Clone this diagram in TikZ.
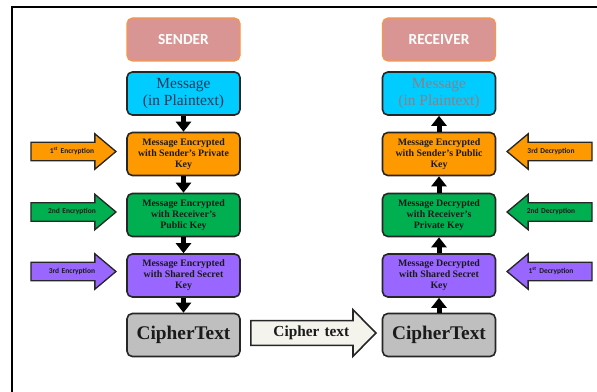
\documentclass[tikz,border=0pt]{standalone}
\usepackage{fontspec}
\setmainfont{Liberation Serif}
\newfontfamily\lblfont{Carlito}
\usetikzlibrary{shapes.arrows,arrows.meta}
\definecolor{hdrfill}{HTML}{D99594}
\definecolor{hdrline}{HTML}{F79646}
\definecolor{cyanbox}{HTML}{00CCFF}
\definecolor{orangebox}{HTML}{FF9900}
\definecolor{greenbox}{HTML}{00B050}
\definecolor{purplebox}{HTML}{9966FF}
\definecolor{graybox}{HTML}{BFBFBF}
\definecolor{ivory}{HTML}{F4F4EC}
\definecolor{navytext}{HTML}{1F3A5A}
\definecolor{fadedtext}{HTML}{8B8088}
\definecolor{inktext}{HTML}{1A1A1A}

\begin{document}
\begin{tikzpicture}[x=0.75pt,y=-0.75pt,
  box/.style={draw=black!85, line width=1.2pt, rounded corners=4pt,
    minimum width=84.75pt, minimum height=32.25pt, inner sep=1pt, align=center},
  header/.style={box, draw=hdrline, line width=0.8pt, fill=hdrfill, text=white,
    font=\lblfont\bfseries\fontsize{11.5}{13}\selectfont},
  msgbox/.style={box, fill=cyanbox, font=\fontsize{11.6}{12.75}\selectfont},
  keybox/.style={box, text=inktext, font=\bfseries\fontsize{7.4}{8.3}\selectfont},
  cipherbox/.style={box, fill=graybox, text=inktext, font=\bfseries\fontsize{14.5}{16}\selectfont},
  link/.style={line width=3.75pt, -{Triangle[width=11.25pt,length=7.5pt]}},
  sidearrow/.style={single arrow, draw=black!85, line width=1pt,
    minimum height=63.75pt, single arrow head extend=6.4pt,
    single arrow tip angle=80, text height=4pt, text depth=1.2pt,
    inner ysep=3.78pt, inner xsep=1pt, text width=46.75pt, align=center,
    text=inktext, font=\lblfont\bfseries\fontsize{5.6}{6}\selectfont},
  leftpointing/.style={sidearrow, shape border rotate=180},
  bigarrow/.style={single arrow, draw=black!85, line width=1.2pt, fill=ivory,
    minimum height=93.75pt, single arrow head extend=8.25pt,
    single arrow tip angle=91, text height=7.5pt, text depth=2.2pt,
    inner ysep=3.78pt, inner xsep=2pt, text width=73.25pt, align=center,
    text=inktext, font=\bfseries\fontsize{11.5}{12}\selectfont}
]
\useasboundingbox (0,0) rectangle (597,392);

% outer frame
\draw[line width=1.5pt] (12,392) -- (12,7) -- (597,7);

% sender column
\node[header] (sender) at (183.5,39.5) {SENDER};
\node[msgbox, text=navytext] (msgS) at (183.5,93.5) {Message\\(in Plaintext)};
\node[keybox, fill=orangebox] (encA) at (183.5,154) {Message Encrypted\\with Sender's Private\\Key};
\node[keybox, fill=greenbox] (encB) at (183.5,215) {Message Encrypted\\with Receiver's\\Public Key};
\node[keybox, fill=purplebox] (encC) at (183.5,275.5) {Message Encrypted\\with Shared Secret\\Key};
\node[cipherbox] (ctS) at (183.5,335) {CipherText};

% receiver column
\node[header] (receiver) at (439,39.5) {RECEIVER};
\node[msgbox, text=fadedtext] (msgR) at (439,93.5) {Message\\(in Plaintext)};
\node[keybox, fill=orangebox] (decC) at (439,154) {Message Encrypted\\with Sender's Public\\Key};
\node[keybox, fill=greenbox] (decB) at (439,215) {Message Decrypted\\with Receiver's\\Private Key};
\node[keybox, fill=purplebox] (decA) at (439,275.5) {Message Decrypted\\with Shared Secret\\Key};
\node[cipherbox] (ctR) at (439,335) {CipherText};

% flow arrows
\draw[link] (msgS.south) -- (encA.north);
\draw[link] (encA.south) -- (encB.north);
\draw[link] (encB.south) -- (encC.north);
\draw[link] (encC.south) -- (ctS.north);
\draw[link] (ctR.north) -- (decA.south);
\draw[link] (decA.north) -- (decB.south);
\draw[link] (decB.north) -- (decC.south);
\draw[link] (decC.north) -- (msgR.south);

% encryption stages (labels sit a little towards the head)
\node[sidearrow, fill=orangebox, anchor=tip] (e1) at (117,151.5) {\hspace*{6pt}1\textsuperscript{st} Encryption};
\node[sidearrow, fill=greenbox, anchor=tip] (e2) at (117,212) {\hspace*{6pt}2nd Encryption};
\node[sidearrow, fill=purplebox, anchor=tip] (e3) at (117,271.5) {\hspace*{6pt}3rd Encryption};

% decryption stages
\node[leftpointing, fill=orangebox, anchor=tip] (d3) at (506,151.5) {3rd Decryption\hspace*{6pt}};
\node[leftpointing, fill=greenbox, anchor=tip] (d2) at (506,212) {2nd Decryption\hspace*{6pt}};
\node[leftpointing, fill=purplebox, anchor=tip] (d1) at (506,271.5) {1\textsuperscript{st} Decryption\hspace*{6pt}};

% transfer of the ciphertext
\node[bigarrow, anchor=tip] (xfer) at (377,333) {\hspace*{6pt}Cipher text};
\end{tikzpicture}
\end{document}
